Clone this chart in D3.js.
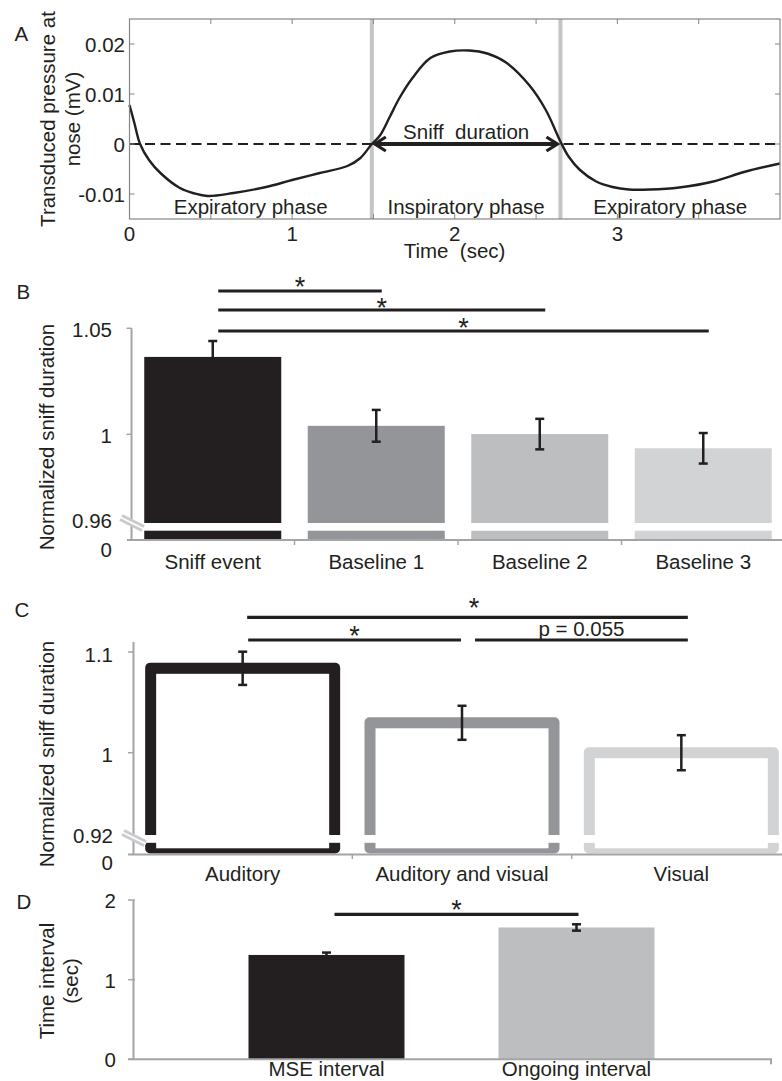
<!DOCTYPE html>
<html><head><meta charset="utf-8">
<script src="https://cdn.jsdelivr.net/npm/d3@7"></script>
<style>
body{margin:0;background:#fff}
text{font-family:"Liberation Sans",Arial,Helvetica,sans-serif;fill:#231f20;font-size:20.5px}
text.star{font-size:27px}
</style>
</head><body>
<svg id="chart" width="782" height="1081" xmlns="http://www.w3.org/2000/svg"></svg>
<script>
// ---------- Panel A data ----------
const timeSec  = [0, 0.03, 0.065, 0.12, 0.19, 0.31, 0.4, 0.48, 0.64, 0.84, 1.0, 1.17, 1.34, 1.42, 1.49, 1.54, 1.6, 1.66, 1.74, 1.85, 1.97, 2.09, 2.2, 2.32, 2.46, 2.56, 2.65, 2.7, 2.77, 2.87, 2.97, 3.07, 3.2, 3.38, 3.59, 3.79, 4.0];
const pressure = [0.0078, 0.0042, 0.0, -0.0032, -0.0058, -0.0088, -0.0099, -0.0104, -0.0098, -0.0086, -0.0072, -0.0058, -0.0044, -0.0028, 0.0, 0.0017, 0.0054, 0.0092, 0.0132, 0.0172, 0.0185, 0.0187, 0.0181, 0.0162, 0.0117, 0.0068, 0.0005, -0.0025, -0.0052, -0.0075, -0.0086, -0.0091, -0.0091, -0.0087, -0.0075, -0.0055, -0.0039];
const phaseBounds = [1.49, 2.65];
const phaseLabels = ["Expiratory phase", "Inspiratory phase", "Expiratory phase"];
const aYTicks = [-0.01, 0, 0.01, 0.02];
const aYTickLabels = ["-0.01", "0", "0.01", "0.02"];
const aXTicks = [0, 1, 2, 3];
const aXTickLabels = ["0", "1", "2", "3"];

// ---------- Panel B data ----------
const bCategories = ["Sniff event", "Baseline 1", "Baseline 2", "Baseline 3"];
const bValues = [1.0365, 1.004, 1.0001, 0.9934];
const bErrors = [0.0075, 0.0075, 0.0072, 0.0072];
const bTicks = [0.96, 1, 1.05];
const bTickLabels = ["0.96", "1", "1.05"];
const bComparisons = [[0, 1, "*"], [0, 2, "*"], [0, 3, "*"]];

// ---------- Panel C data ----------
const cCategories = ["Auditory", "Auditory and visual", "Visual"];
const cValues = [1.0838, 1.0297, 1.0];
const cErrors = [0.0165, 0.0169, 0.0174];
const cTicks = [0.92, 1, 1.1];
const cTickLabels = ["0.92", "1", "1.1"];
const cComparisons = [[0, 2, "*"], [0, 1, "*"], [1, 2, "p = 0.055"]];

// ---------- Panel D data ----------
const dCategories = ["MSE interval", "Ongoing interval"];
const dValues = [1.31, 1.655];
const dErrors = [0.03, 0.04];
const dTicks = [0, 1, 2];
const dTickLabels = ["0", "1", "2"];
const dComparisons = [[0, 1, "*"]];

// ---------- styles ----------
const INK = "#231f20";
const AXIS = "#a3a4a6";
const bFill = ["#231f20", "#939598", "#bcbec0", "#d1d3d4"];
const cFill = ["#231f20", "#939598", "#d1d3d4"];
const dFill = ["#231f20", "#bcbec0"];

const svg = d3.select("#chart");

function label(g, x, y, txt, anchor, extra) {
  const t = g.append("text").attr("x", x).attr("y", y).attr("text-anchor", anchor || "start").text(txt);
  if (extra) extra(t);
  return t;
}
function vtitle(g, x, y, txt) {
  return g.append("text").attr("transform", `translate(${x},${y}) rotate(-90)`)
    .attr("text-anchor", "middle").text(txt);
}
function errorBar(g, x, yTop, yBot) {
  g.append("line").attr("x1", x).attr("x2", x).attr("y1", yTop).attr("y2", yBot).attr("stroke", INK).attr("stroke-width", 2.5);
  [yTop, yBot].forEach(yy => g.append("line").attr("x1", x - 4.5).attr("x2", x + 4.5).attr("y1", yy).attr("y2", yy).attr("stroke", INK).attr("stroke-width", 2.5));
}
function sigLine(g, x1, x2, y, txt, tx, ty) {
  g.append("line").attr("x1", x1).attr("x2", x2).attr("y1", y).attr("y2", y).attr("stroke", INK).attr("stroke-width", 3.2);
  const t = g.append("text").attr("x", tx).attr("y", ty).attr("text-anchor", "middle").text(txt);
  if (txt === "*") t.attr("class", "star");
}
function breakMark(g, cx, cy) {
  g.append("line").attr("x1", cx - 11).attr("y1", cy - 5.5).attr("x2", cx + 11).attr("y2", cy + 5.5)
    .attr("stroke", "#c9cacc").attr("stroke-width", 7.5);
  g.append("line").attr("x1", cx - 12).attr("y1", cy - 6).attr("x2", cx + 12).attr("y2", cy + 6)
    .attr("stroke", "#fff").attr("stroke-width", 1.8);
}

// =============== Panel A ===============
(function () {
  const g = svg.append("g");
  const x = d3.scaleLinear().domain([0, 4]).range([129.5, 780]);
  const y = d3.scaleLinear().domain([-0.015, 0.025]).range([219, 19]);

  phaseBounds.forEach(b => g.append("line").attr("x1", x(b)).attr("x2", x(b)).attr("y1", y(0.025)).attr("y2", y(-0.015))
    .attr("stroke", "#c4c5c7").attr("stroke-width", 4));

  g.append("line").attr("x1", x(0)).attr("x2", x(4)).attr("y1", y(0)).attr("y2", y(0))
    .attr("stroke", INK).attr("stroke-width", 2).attr("stroke-dasharray", "10,5.5");

  const ax1 = x(phaseBounds[0]) + 2, ax2 = x(phaseBounds[1]) - 2, ay0 = y(0);
  g.append("rect").attr("x", ax1).attr("y", ay0 - 3).attr("width", ax2 - ax1).attr("height", 6).attr("fill", "#fff");
  g.append("line").attr("x1", ax1 + 2).attr("x2", ax2 - 2).attr("y1", ay0).attr("y2", ay0).attr("stroke", INK).attr("stroke-width", 3.8);
  g.append("path").attr("d", `M${ax1 + 12},${ay0 - 7} L${ax1 + 1},${ay0} L${ax1 + 12},${ay0 + 7}`)
    .attr("fill", "none").attr("stroke", INK).attr("stroke-width", 3.2);
  g.append("path").attr("d", `M${ax2 - 12},${ay0 - 7} L${ax2 - 1},${ay0} L${ax2 - 12},${ay0 + 7}`)
    .attr("fill", "none").attr("stroke", INK).attr("stroke-width", 3.2);

  const pts = timeSec.map((t, i) => [t, pressure[i]]);
  g.append("path").datum(pts)
    .attr("d", d3.line().x(d => x(d[0])).y(d => y(d[1])).curve(d3.curveCatmullRom.alpha(0.5)))
    .attr("fill", "none").attr("stroke", INK).attr("stroke-width", 2.4);

  g.append("rect").attr("x", x(0)).attr("y", y(0.025)).attr("width", x(4) - x(0)).attr("height", y(-0.015) - y(0.025))
    .attr("fill", "none").attr("stroke", "#858585").attr("stroke-width", 1.2);

  d3.range(0.5, 4, 0.5).forEach(t => {
    g.append("line").attr("x1", x(t)).attr("x2", x(t)).attr("y1", y(0.025)).attr("y2", y(0.025) + 5).attr("stroke", "#858585");
    g.append("line").attr("x1", x(t)).attr("x2", x(t)).attr("y1", y(-0.015)).attr("y2", y(-0.015) - 5).attr("stroke", "#858585");
  });
  aYTicks.forEach(v => {
    g.append("line").attr("x1", x(0)).attr("x2", x(0) + 5).attr("y1", y(v)).attr("y2", y(v)).attr("stroke", "#858585");
    g.append("line").attr("x1", x(4)).attr("x2", x(4) - 5).attr("y1", y(v)).attr("y2", y(v)).attr("stroke", "#858585");
  });

  aYTicks.forEach((v, i) => label(g, x(0) - 4.5, y(v) + 7.5, aYTickLabels[i], "end"));
  aXTicks.forEach((v, i) => label(g, x(v), 240.5, aXTickLabels[i], "middle"));

  const edges = [0].concat(phaseBounds, [4]);
  phaseLabels.forEach((p, i) => label(g, (x(edges[i]) + x(edges[i + 1])) / 2, 213.5, p, "middle"));

  label(g, (x(phaseBounds[0]) + x(phaseBounds[1])) / 2, 138.5, "Sniff  duration", "middle", t => t.style("white-space", "pre"));
  label(g, 454.5, 257.5, "Time  (sec)", "middle", t => t.style("white-space", "pre"));

  vtitle(g, 54.5, 119, "Transduced pressure at");
  vtitle(g, 79.5, 119, "nose (mV)");
  label(g, 14.5, 40.5, "A");
})();

// =============== Panel B ===============
(function () {
  const g = svg.append("g");
  const x = d3.scaleBand().domain(bCategories).range([131, 785]);
  const y = d3.scaleLinear().domain([1, 1.05]).range([434.3, 328.3]);
  const base = 539.5, bw = 137;
  const cxOf = c => x(c) + x.bandwidth() / 2;

  bCategories.forEach((c, i) => {
    g.append("rect").attr("x", cxOf(c) - bw / 2).attr("y", y(bValues[i])).attr("width", bw)
      .attr("height", base - y(bValues[i])).attr("fill", bFill[i]);
  });
  g.append("rect").attr("x", 133).attr("y", 523).attr("width", 650).attr("height", 7.7).attr("fill", "#fff");

  bCategories.forEach((c, i) => errorBar(g, cxOf(c), y(bValues[i] + bErrors[i]), y(bValues[i] - bErrors[i])));

  g.append("line").attr("x1", 131.5).attr("x2", 131.5).attr("y1", y(1.05)).attr("y2", 541).attr("stroke", AXIS).attr("stroke-width", 2);
  g.append("line").attr("x1", 127).attr("x2", 782).attr("y1", 540).attr("y2", 540).attr("stroke", AXIS).attr("stroke-width", 2);
  bCategories.slice(1).forEach(c => g.append("line").attr("x1", x(c)).attr("x2", x(c)).attr("y1", 540).attr("y2", 545).attr("stroke", AXIS).attr("stroke-width", 1.5));
  bTicks.filter(v => v !== 0.96).forEach(v => g.append("line").attr("x1", 126.5).attr("x2", 131.5).attr("y1", y(v)).attr("y2", y(v)).attr("stroke", AXIS).attr("stroke-width", 1.5));
  breakMark(g, 132, 523);

  bTicks.forEach((v, i) => label(g, 112, y(v) + 8.5, bTickLabels[i], "end"));
  label(g, 112, 557, "0", "end");

  bCategories.forEach(c => label(g, cxOf(c), 569, c, "middle"));

  const levels = [291, 310, 331];
  const starDy = [5, 7, 6];
  bComparisons.forEach((cmp, k) => {
    const x1 = cxOf(bCategories[cmp[0]]) + 5.5, x2 = cxOf(bCategories[cmp[1]]) + 5.5;
    sigLine(g, x1, x2, levels[k], cmp[2], (x1 + x2) / 2, levels[k] + starDy[k]);
  });

  vtitle(g, 54, 437, "Normalized sniff duration");
  label(g, 16.5, 298.5, "B");
})();

// =============== Panel C ===============
(function () {
  const g = svg.append("g");
  const x = d3.scaleBand().domain(cCategories).range([133, 791]);
  const y = d3.scaleLinear().domain([1, 1.1]).range([752.7, 652]);
  const ow = 195, side = 11;
  const cxOf = c => x(c) + x.bandwidth() / 2;

  cCategories.forEach((c, i) => {
    const top = y(cValues[i]);
    const cx = cxOf(c);
    g.append("rect").attr("x", cx - ow / 2).attr("y", top - 5.5).attr("width", ow).attr("height", 853.5 - (top - 5.5))
      .attr("rx", 5).attr("fill", cFill[i]);
    g.append("rect").attr("x", cx - ow / 2 + side).attr("y", top + 5.5).attr("width", ow - 2 * side)
      .attr("height", 848.3 - (top + 5.5)).attr("fill", "#fff");
  });
  g.append("rect").attr("x", 135).attr("y", 835).attr("width", 647).attr("height", 7.8).attr("fill", "#fff");

  cCategories.forEach((c, i) => errorBar(g, cxOf(c), y(cValues[i] + cErrors[i]), y(cValues[i] - cErrors[i])));

  g.append("line").attr("x1", 133.5).attr("x2", 133.5).attr("y1", y(1.11)).attr("y2", 855).attr("stroke", AXIS).attr("stroke-width", 2);
  g.append("line").attr("x1", 128).attr("x2", 782).attr("y1", 854.5).attr("y2", 854.5).attr("stroke", AXIS).attr("stroke-width", 2);
  cCategories.slice(1).forEach(c => g.append("line").attr("x1", x(c)).attr("x2", x(c)).attr("y1", 854.5).attr("y2", 859).attr("stroke", AXIS).attr("stroke-width", 1.5));
  cTicks.filter(v => v !== 0.92).forEach(v => g.append("line").attr("x1", 128).attr("x2", 133.5).attr("y1", y(v)).attr("y2", y(v)).attr("stroke", AXIS).attr("stroke-width", 1.5));
  breakMark(g, 134, 838);

  cTicks.forEach((v, i) => label(g, 113, y(v) + 9.5, cTickLabels[i], "end"));
  label(g, 113, 870, "0", "end");

  cCategories.forEach(c => label(g, cxOf(c), 880.5, c, "middle"));

  const c0 = cxOf(cCategories[0]), c1 = cxOf(cCategories[1]), c2 = cxOf(cCategories[2]);
  sigLine(g, c0 + 4.5, c2 + 6.5, 617.3, cComparisons[0][2], 474, 617);
  sigLine(g, c0 + 5.5, c1 - 1, 640, cComparisons[1][2], (c0 + 5.5 + c1 - 1) / 2, 645);
  sigLine(g, c1 + 13, c2 + 6.5, 640, cComparisons[2][2], (c1 + 13 + c2 + 6.5) / 2, 636);

  vtitle(g, 54, 754, "Normalized sniff duration");
  label(g, 14.5, 616.5, "C");
})();

// =============== Panel D ===============
(function () {
  const g = svg.append("g");
  const x = d3.scaleBand().domain(dCategories).range([133, 770]).paddingOuter(0.274);
  const y = d3.scaleLinear().domain([0, 2]).range([1059.3, 900]);
  const bw = 156;
  const cxOf = c => x(c) + x.bandwidth() / 2;

  dCategories.forEach((c, i) => g.append("rect").attr("x", cxOf(c) - bw / 2).attr("y", y(dValues[i]))
    .attr("width", bw).attr("height", y(0) - y(dValues[i])).attr("fill", dFill[i]));
  dCategories.forEach((c, i) => errorBar(g, cxOf(c), y(dValues[i] + dErrors[i]), y(dValues[i] - dErrors[i])));

  g.append("line").attr("x1", 133.5).attr("x2", 133.5).attr("y1", y(2)).attr("y2", y(0)).attr("stroke", AXIS).attr("stroke-width", 2);
  g.append("line").attr("x1", 128).attr("x2", 772).attr("y1", y(0)).attr("y2", y(0)).attr("stroke", AXIS).attr("stroke-width", 2);
  g.append("line").attr("x1", 771).attr("x2", 771).attr("y1", y(0)).attr("y2", y(0) + 5).attr("stroke", AXIS).attr("stroke-width", 2);
  dTicks.forEach(v => g.append("line").attr("x1", 128).attr("x2", 135).attr("y1", y(v)).attr("y2", y(v)).attr("stroke", AXIS).attr("stroke-width", 1.5));

  dTicks.forEach((v, i) => label(g, 116, y(v) + 8, dTickLabels[i], "end"));
  dCategories.forEach(c => label(g, cxOf(c), 1076, c, "middle"));

  const x1 = cxOf(dCategories[0]) + 8, x2 = cxOf(dCategories[1]) + 2;
  sigLine(g, x1, x2, 914.3, dComparisons[0][2], (x1 + x2) / 2, 919);

  vtitle(g, 53.5, 981, "Time interval");
  vtitle(g, 78, 981, "(sec)");
  label(g, 16.5, 908.5, "D");
})();
</script>
</body></html>
